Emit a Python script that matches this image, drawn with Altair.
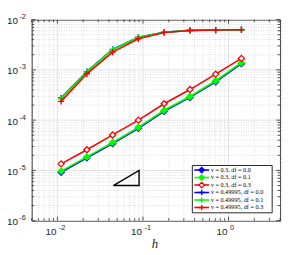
import altair as alt
import pandas as pd
import numpy as np

# ---------------- data ----------------
h = [0.01105, 0.0221, 0.0442, 0.0884, 0.1768, 0.3536, 0.7071, 1.4142]

series_labels = [
    "ν = 0.3, df = 0.0",
    "ν = 0.3, df = 0.1",
    "ν = 0.3, df = 0.3",
    "ν = 0.49995, df = 0.0",
    "ν = 0.49995, df = 0.1",
    "ν = 0.49995, df = 0.3",
]
series_colors = ["#0000ff", "#00ff00", "#ff0000", "#0000ff", "#00ff00", "#ff0000"]
series_shapes = ["diamond", "diamond", "diamond", "plus", "plus", "plus"]
series_filled = [True, True, False, True, True, True]

err_03_00 = [9.2e-6, 1.78e-5, 3.43e-5, 6.9e-5, 1.5e-4, 2.83e-4, 5.8e-4, 1.33e-3]
err_03_01 = [9.7e-6, 1.86e-5, 3.59e-5, 7.2e-5, 1.57e-4, 2.96e-4, 6.08e-4, 1.39e-3]
err_03_03 = [1.35e-5, 2.58e-5, 5.08e-5, 1.0e-4, 2.12e-4, 4.06e-4, 8.24e-4, 1.69e-3]
err_49_00 = [2.75e-4, 9.2e-4, 2.55e-3, 4.45e-3, 5.6e-3, 6.1e-3, 6.2e-3, 6.3e-3]
err_49_01 = [2.7e-4, 9.1e-4, 2.52e-3, 4.44e-3, 5.6e-3, 6.1e-3, 6.2e-3, 6.3e-3]
err_49_03 = [2.36e-4, 8.35e-4, 2.25e-3, 4.15e-3, 5.56e-3, 6.08e-3, 6.2e-3, 6.28e-3]
series_errs = [err_03_00, err_03_01, err_03_03, err_49_00, err_49_01, err_49_03]

tri_h = [0.045, 0.09, 0.09, 0.045]
tri_e = [5e-6, 5e-6, 1e-5, 5e-6]

x_decades = [0.01, 0.1, 1.0]
x_exps = ["-2", "-1", "0"]
y_decades = [1e-6, 1e-5, 1e-4, 1e-3, 1e-2]
y_exps = ["-6", "-5", "-4", "-3", "-2"]
x_domain = [0.005, 4.0]
y_domain = [1e-6, 1e-2]

# ---------------- layout ----------------
W, H = 252, 204
TXT = "#262626"
PLUS = "M-1,0H1M0,-1V1"

xs = alt.Scale(type="log", domain=x_domain, nice=False, zero=False)
ys = alt.Scale(type="log", domain=y_domain, nice=False, zero=False)

# minor ticks
x_minor = [m * d for d in [0.001, 0.01, 0.1, 1.0] for m in range(2, 10)
           if x_domain[0] <= m * d <= x_domain[1] + 1e-9]
y_minor = [m * d for d in [1e-6, 1e-5, 1e-4, 1e-3] for m in range(2, 10)]

xmin_df = pd.DataFrame({"v": x_minor})
xmaj_df = pd.DataFrame({"v": x_decades, "exp": x_exps, "base": ["10"] * len(x_decades)})
ymin_df = pd.DataFrame({"v": y_minor})
ymaj_df = pd.DataFrame({"v": y_decades, "exp": y_exps, "base": ["10"] * len(y_decades)})

layers = []

# grid
layers.append(alt.Chart(xmin_df).mark_rule(color="#d4d4d4", strokeWidth=0.8, strokeDash=[1, 1.5]).encode(
    x=alt.X("v:Q", scale=xs, axis=None), y=alt.value(0), y2=alt.value(H)))
layers.append(alt.Chart(ymin_df).mark_rule(color="#d4d4d4", strokeWidth=0.8, strokeDash=[1, 1.5]).encode(
    y=alt.Y("v:Q", scale=ys, axis=None), x=alt.value(0), x2=alt.value(W)))
layers.append(alt.Chart(xmaj_df).mark_rule(color="#e2e2e2", strokeWidth=1).encode(
    x=alt.X("v:Q", scale=xs, axis=None), y=alt.value(0), y2=alt.value(H)))
layers.append(alt.Chart(ymaj_df).mark_rule(color="#e2e2e2", strokeWidth=1).encode(
    y=alt.Y("v:Q", scale=ys, axis=None), x=alt.value(0), x2=alt.value(W)))

# ticks (inward, all four sides)
for df, ln in [(xmin_df, 2.5), (xmaj_df, 4)]:
    layers.append(alt.Chart(df).mark_rule(color=TXT, strokeWidth=0.8).encode(
        x=alt.X("v:Q", scale=xs, axis=None), y=alt.value(H), y2=alt.value(H - ln)))
    layers.append(alt.Chart(df).mark_rule(color=TXT, strokeWidth=0.8).encode(
        x=alt.X("v:Q", scale=xs, axis=None), y=alt.value(0), y2=alt.value(ln)))
for df, ln in [(ymin_df, 2.5), (ymaj_df, 4)]:
    layers.append(alt.Chart(df).mark_rule(color=TXT, strokeWidth=0.8).encode(
        y=alt.Y("v:Q", scale=ys, axis=None), x=alt.value(0), x2=alt.value(ln)))
    layers.append(alt.Chart(df).mark_rule(color=TXT, strokeWidth=0.8).encode(
        y=alt.Y("v:Q", scale=ys, axis=None), x=alt.value(W), x2=alt.value(W - ln)))

# tick labels
layers.append(alt.Chart(xmaj_df).mark_text(align="right", baseline="middle", fontSize=10,
                                           font="Liberation Sans", color=TXT, dx=-1).encode(
    x=alt.X("v:Q", scale=xs, axis=None), y=alt.value(H + 11.5), text="base:N"))
layers.append(alt.Chart(xmaj_df).mark_text(align="left", baseline="middle", fontSize=7.5,
                                           font="Liberation Sans", color=TXT, dx=1.5).encode(
    x=alt.X("v:Q", scale=xs, axis=None), y=alt.value(H + 7), text="exp:N"))
layers.append(alt.Chart(ymaj_df).mark_text(align="right", baseline="middle", fontSize=10,
                                           font="Liberation Sans", color=TXT, dy=1.5).encode(
    y=alt.Y("v:Q", scale=ys, axis=None), x=alt.value(-14), text="base:N"))
layers.append(alt.Chart(ymaj_df).mark_text(align="left", baseline="middle", fontSize=7.5,
                                           font="Liberation Sans", color=TXT, dy=-2.5).encode(
    y=alt.Y("v:Q", scale=ys, axis=None), x=alt.value(-12.5), text="exp:N"))

# axis title
layers.append(alt.Chart(pd.DataFrame({"t": ["h"]})).mark_text(
    font="Liberation Serif", fontStyle="italic", fontSize=13, color=TXT, baseline="middle").encode(
    x=alt.value(W / 2 - 1), y=alt.value(H + 24), text="t:N"))

# series
for lab, col, shp, fil, errs in zip(series_labels, series_colors, series_shapes, series_filled, series_errs):
    df = pd.DataFrame({"h": h, "e": errs})
    base = alt.Chart(df).encode(
        x=alt.X("h:Q", scale=xs, axis=None),
        y=alt.Y("e:Q", scale=ys, axis=None))
    layers.append(base.mark_line(color=col, strokeWidth=1.6))
    if shp == "diamond":
        layers.append(base.mark_point(shape="diamond", size=38, filled=False, strokeWidth=1.3,
                                      color=col, fill=(col if fil else "white"), fillOpacity=1, opacity=1))
    else:
        layers.append(base.mark_point(shape=PLUS, size=40, filled=False, strokeWidth=1.4,
                                      color=col, opacity=1))

# slope triangle
tri_df = pd.DataFrame({"h": tri_h, "e": tri_e, "o": list(range(len(tri_h)))})
layers.append(alt.Chart(tri_df).mark_line(color="black", strokeWidth=1.4).encode(
    x=alt.X("h:Q", scale=xs, axis=None), y=alt.Y("e:Q", scale=ys, axis=None), order="o:Q"))

# legend
LX0, LX1, LY0, LY1 = 163, 244, 148, 196
layers.append(alt.Chart(pd.DataFrame({"a": [0]})).mark_rect(
    fill="white", stroke="#262626", strokeWidth=1).encode(
    x=alt.value(LX0), x2=alt.value(LX1), y=alt.value(LY0), y2=alt.value(LY1)))
leg_df = pd.DataFrame({"label": series_labels, "col": series_colors, "shape": series_shapes,
                       "filled": series_filled, "idx": list(range(len(series_labels)))})
leg = alt.Chart(leg_df).transform_calculate(ly="datum.idx * 7.6 + 152.6")
layers.append(leg.mark_rule(strokeWidth=1.6).encode(
    x=alt.value(165), x2=alt.value(180), y=alt.Y("ly:Q", scale=None),
    color=alt.Color("col:N", scale=None)))
layers.append(leg.transform_filter("datum.shape == 'diamond'").mark_point(
    shape="diamond", size=32, strokeWidth=1.2, opacity=1, fillOpacity=1).encode(
    x=alt.value(172.5), y=alt.Y("ly:Q", scale=None),
    color=alt.Color("col:N", scale=None),
    fill=alt.condition("datum.filled", alt.Color("col:N", scale=None), alt.value("white"))))
layers.append(leg.transform_filter("datum.shape == 'plus'").mark_point(
    shape=PLUS, size=32, strokeWidth=1.3, filled=False, opacity=1).encode(
    x=alt.value(172.5), y=alt.Y("ly:Q", scale=None),
    color=alt.Color("col:N", scale=None)))
layers.append(leg.mark_text(align="left", baseline="middle", fontSize=6.3,
                            font="Liberation Serif", color="black").encode(
    x=alt.value(182), y=alt.Y("ly:Q", scale=None), text="label:N"))

chart = alt.layer(*layers).properties(
    width=W, height=H,
    autosize=alt.AutoSizeParams(type="none"),
    padding={"left": 24, "top": 10, "right": 5, "bottom": 31},
    background="white",
).configure_view(stroke="#262626", strokeWidth=1)

chart.save("out.html", embed_options={"renderer": "svg", "actions": False})
